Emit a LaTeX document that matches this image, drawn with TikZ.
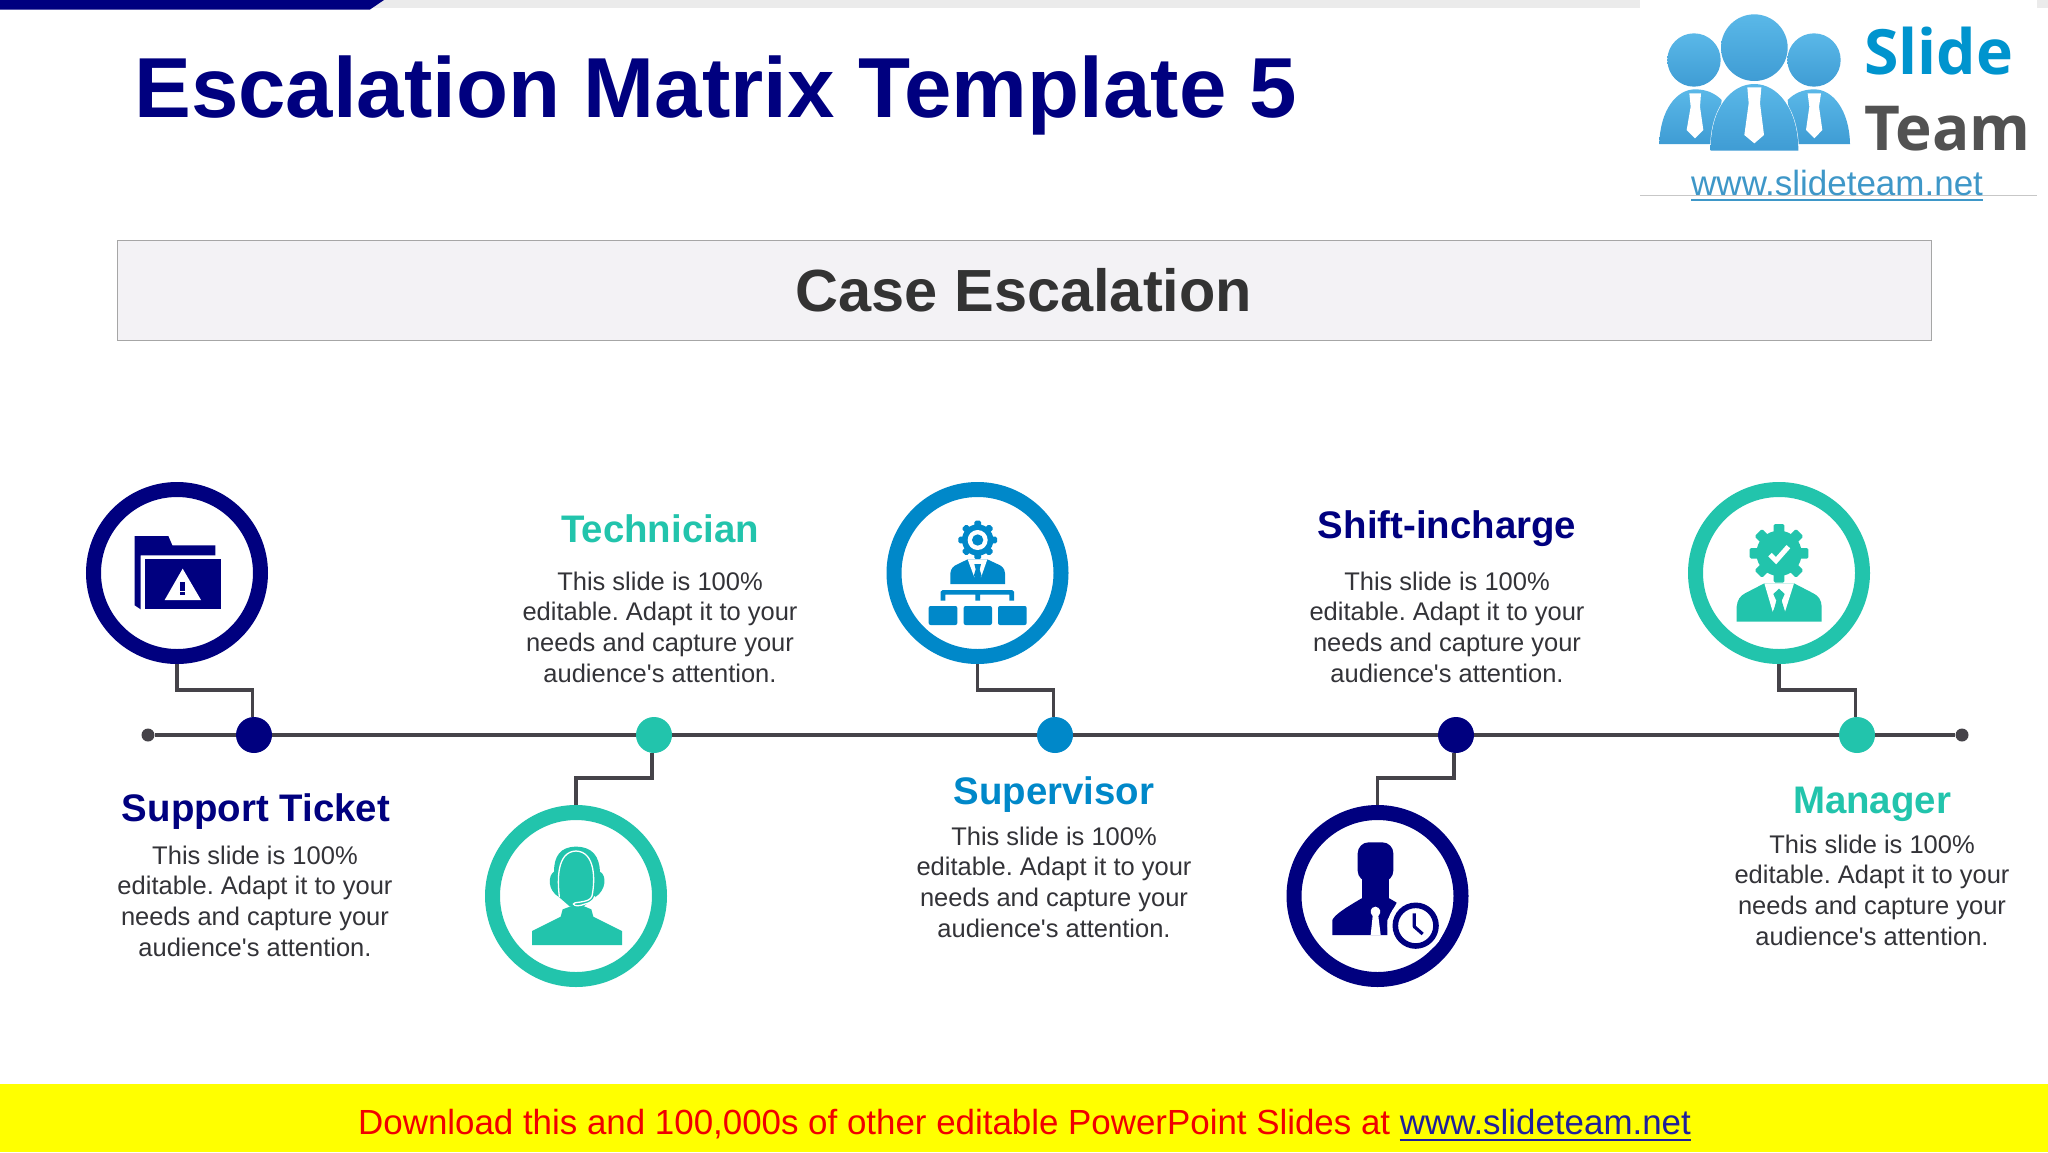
\documentclass[tikz,border=0pt]{standalone}
\usepackage{fontspec}
\setmainfont{Liberation Sans}
\newfontfamily\copyfont{Liberation Sans}
\newfontfamily\logofont{Open Sans}
\definecolor{navy}{HTML}{00007F}
\definecolor{teal}{HTML}{22C4AC}
\definecolor{azure}{HTML}{0088C9}
\definecolor{linegray}{HTML}{454349}
\definecolor{bodygray}{HTML}{333338}
\definecolor{logoblue}{HTML}{45A8DE}
\definecolor{logolight}{HTML}{5AB8E8}
\definecolor{logodark}{HTML}{3F9CD4}
\definecolor{bandyellow}{HTML}{FFFF00}
\definecolor{promored}{HTML}{F00000}
\definecolor{sitedark}{HTML}{1F1F9A}
\definecolor{bannerfill}{HTML}{F3F2F5}
\tikzset{
  ring/.style={circle,draw=#1,fill=white,line width=15pt,minimum size=167pt,inner sep=0pt},
  stop/.style={circle,fill=#1,minimum size=36pt,inner sep=0pt},
  tip/.style={circle,fill=linegray,minimum size=13pt,inner sep=0pt},
  rail/.style={draw=linegray,line width=3.8pt},
  link/.style={draw=linegray,line width=3.6pt,line join=miter},
  head/.style={anchor=base,inner sep=0pt,text=#1,font=\fontsize{38.4}{44}\selectfont\bfseries},
  copy/.style={anchor=center,inner sep=0pt,align=center,text=bodygray,font=\copyfont\frenchspacing\fontsize{25.5}{30.6}\selectfont},
  zoomed/.style={shift={#1},x=0.33333pt,y=-0.33333pt},
  logoshade/.style={top color=logolight,bottom color=logodark,draw=none},
}
\newcommand{\bodytext}{This slide is 100\%\\editable. Adapt it to your\\needs and capture your\\audience's attention.}
\newcommand{\gearteeth}[4]{% centre x, y, half width, outer radius
  \foreach \a in {0,45,...,315}{\fill[rotate around={\a:(#1,#2)},rounded corners=1.5pt] (#1-#3,#2) rectangle (#1+#3,#2-#4);}}
\begin{document}
\begin{tikzpicture}[x=1pt,y=-1pt]
\useasboundingbox (0,0) rectangle (2048,1152);
\fill[white] (0,0) rectangle (2048,1152);
% top strip
\fill[black!8] (370,0) rectangle (2048,8);
\fill[navy] (0,0) -- (384,0) -- (370,9.5) -- (0,9.5) -- cycle;
% logo
\fill[white] (1640,0) rectangle (2037,196);
\draw[black!22,line width=1pt] (1640,195.5) -- (2037,195.5);
\begin{scope}[zoomed={(1620,0)}]
  \shade[logoshade] (222,180) circle (80);
  \shade[logoshade] (582,180) circle (80);
  \shade[logoshade] (403,143) circle (100);
  \shade[logoshade] (118,432) .. controls (120,330) and (170,268) .. (225,268) .. controls (260,268) and (285,280) .. (305,300) -- (290,432) -- cycle;
  \shade[logoshade] (690,432) .. controls (688,330) and (638,268) .. (583,268) .. controls (548,268) and (523,280) .. (503,300) -- (518,432) -- cycle;
  \draw[white,line width=1pt] (272,452) .. controls (270,330) and (330,252) .. (403,252) .. controls (475,252) and (535,330) .. (535,452);
  \shade[logoshade] (272,452) .. controls (270,330) and (330,252) .. (403,252) .. controls (475,252) and (535,330) .. (535,452) -- cycle;
  \fill[white] (208,280) -- (243,280) -- (240,320) -- (250,390) -- (225,415) -- (200,390) -- (212,320) -- cycle;
  \fill[white] (382,262) -- (424,262) -- (420,310) -- (432,405) -- (403,430) -- (373,405) -- (386,310) -- cycle;
  \fill[white] (563,280) -- (603,280) -- (597,320) -- (607,390) -- (583,415) -- (558,390) -- (568,320) -- cycle;
\end{scope}
\node[anchor=base west,inner sep=0pt,text=azure!90!cyan,font=\logofont\fontsize{62.5}{70}\selectfont\bfseries] (logoslide) at (1864,74) {Slide};
\node[anchor=base west,inner sep=0pt,text=black!68,font=\logofont\fontsize{62}{70}\selectfont\bfseries] (logoteam) at (1864,150) {Team};
\node[anchor=base west,inner sep=0pt,text=logoblue!90!black,font=\fontsize{35}{40}\selectfont] (logourl) at (1691,195) {www.slideteam.net};
\draw[logoblue!90!black,line width=2pt] (logourl.base west |- 0,200) -- (logourl.base east |- 0,200);
% title
\node[anchor=base west,inner sep=0pt,text=navy,font=\fontsize{85.2}{95}\selectfont\bfseries] (title) at (134,117) {Escalation Matrix Template 5};
% banner
\node[draw=black!35,fill=bannerfill,line width=1pt,minimum width=1814pt,minimum height=100pt,inner sep=0pt,text=black!80,font=\fontsize{59.5}{66}\selectfont\bfseries] (banner) at (1024,290) {Case Escalation};
% rings
\node[ring=navy] (c1) at (177,573) {};
\node[ring=teal] (c2) at (576,896) {};
\node[ring=azure] (c3) at (977.5,573) {};
\node[ring=navy] (c4) at (1377.5,896) {};
\node[ring=teal] (c5) at (1779,573) {};
% stops
\node[tip] (s) at (148,735) {};
\node[tip] (e) at (1962,735) {};
\node[stop=navy] (d1) at (254,735) {};
\node[stop=teal] (d2) at (654,735) {};
\node[stop=azure] (d3) at (1055,735) {};
\node[stop=navy] (d4) at (1456,735) {};
\node[stop=teal] (d5) at (1857,735) {};
\draw[rail] (s) -- (d1) -- (d2) -- (d3) -- (d4) -- (d5) -- (e);
% connectors
\draw[link] (c1.south) -- ++(0,26) -| ([xshift=-1.5pt]d1.north);
\draw[link] (c2.north) -- ++(0,-27) -| ([xshift=-2pt]d2.south);
\draw[link] (c3.south) -- ++(0,26) -| ([xshift=-1.5pt]d3.north);
\draw[link] (c4.north) -- ++(0,-27) -| ([xshift=-2pt]d4.south);
\draw[link] (c5.south) -- ++(0,26) -| ([xshift=-1.5pt]d5.north);
% texts
\node[head=navy] (h1) at (256,821) {Support Ticket};
\node[copy] (b1) at (255,901) {\bodytext};
\node[head=teal] (h2) at (660,542) {Technician};
\node[copy] (b2) at (660,627) {\bodytext};
\node[head=azure] (h3) at (1054,804) {Supervisor};
\node[copy] (b3) at (1054,882) {\bodytext};
\node[head=navy] (h4) at (1447,538) {Shift-incharge};
\node[copy] (b4) at (1447,627) {\bodytext};
\node[head=teal] (h5) at (1872,813) {Manager};
\node[copy] (b5) at (1872,890) {\bodytext};
% icon 1 folder
\begin{scope}[zoomed={(70,470)}]
  \fill[navy] (194,198) -- (295,198) -- (307,226) -- (436,226) -- (436,256) -- (212,256) -- (212,418) -- (194,406) -- cycle;
  \fill[navy] (225,268) rectangle (452,418);
  \fill[white] (338,296) -- (393,390) -- (284,390) -- cycle;
  \fill[navy] (331,335) rectangle (345,362);
  \fill[navy] (331,365) rectangle (345,375);
\end{scope}
% icon 2 headset
\begin{scope}[zoomed={(470,720)}]
  \fill[teal] (186,675) -- (186,633) -- (272,590) -- (278,568) -- (305,558) -- (300,530) -- (270,530) -- (352,530) -- (340,558) -- (364,568) -- (370,590) -- (456,633) -- (456,675) -- cycle;
  \fill[teal] (318,380) .. controls (270,380) and (252,410) .. (252,455) .. controls (235,465) and (230,510) .. (268,532) -- (300,560) -- (340,560) -- (375,532) .. controls (410,510) and (410,465) .. (390,455) .. controls (388,410) and (368,380) .. (318,380) -- cycle;
  \draw[white,line width=1.3pt,line cap=round,line join=round] (268,530) .. controls (262,480) and (260,395) .. (318,393) .. controls (376,395) and (376,480) .. (366,528) .. controls (362,540) and (350,543) .. (332,546) .. controls (318,548) and (310,548) .. (310,552) .. controls (314,560) and (330,558) .. (345,552) .. controls (360,548) and (370,545) .. (374,530);
\end{scope}
% icon 3 gear and organisation
\begin{scope}[zoomed={(870,470)}]
  \begin{scope}[azure,fill=azure]
    \fill (323,210) circle (47);
    \gearteeth{323}{210}{10}{58}
    \fill[azure] (241,342) -- (241,310) .. controls (243,295) and (250,288) .. (262,283) -- (293,268) -- (352,268) -- (384,283) .. controls (396,288) and (404,295) .. (405,310) -- (405,342) -- cycle;
    \fill[azure] (232,374) -- (226,360) -- (426,360) -- (432,365) -- (432,392) -- (418,392) -- (418,374) -- (330,374) -- (330,392) -- (316,392) -- (316,374) -- (226,374) -- (226,392) -- (212,392) -- (212,365) -- (218,360) -- (226,360) -- cycle;
    \fill[azure,rounded corners=2pt] (176,408) rectangle (262,465);
    \fill[azure,rounded corners=2pt] (281,408) rectangle (366,465);
    \fill[azure,rounded corners=2pt] (384,408) rectangle (470,465);
  \end{scope}
  \fill[white] (323,210) circle (30);
  \fill[azure] (323,210) circle (17);
  \fill[white] (293,268) -- (352,268) -- (333,322) -- (323,300) -- (313,322) -- cycle;
  \fill[azure] (313,282) -- (333,282) -- (329,298) -- (335,318) -- (323,325) -- (311,318) -- (317,298) -- cycle;
\end{scope}
% icon 4 person and clock
\begin{scope}[zoomed={(1270,720)}]
  \fill[navy,rounded corners=11pt] (263,367) rectangle (370,485);
  \fill[navy] (275,470) rectangle (358,570);
  \fill[navy] (187,645) -- (187,600) .. controls (195,585) and (215,570) .. (275,535) -- (358,535) -- (380,548) -- (352,600) -- (352,645) -- cycle;
  \fill[white] (316,560) .. controls (300,562) and (298,578) .. (308,588) -- (302,645) -- (332,645) -- (325,588) .. controls (335,578) and (332,562) .. (316,560) -- cycle;
  \fill[white] (437,617) circle (84);
  \draw[navy,line width=5.6pt] (437,617) circle (61);
  \draw[navy,line width=3.2pt,line join=round] (433,580) -- (433,620) -- (458,642);
\end{scope}
% icon 5 gear with check
\begin{scope}[zoomed={(1670,470)}]
  \fill[teal] (327,250) circle (68);
  \begin{scope}[teal]
    \gearteeth{327}{250}{16}{88}
  \end{scope}
  \draw[white,line width=5pt] (300,254) -- (318,272) -- (355,230);
  \fill[teal] (200,455) -- (200,410) .. controls (202,390) and (210,378) .. (225,370) -- (283,340) -- (372,340) -- (430,370) .. controls (446,378) and (454,390) .. (455,410) -- (455,455) -- cycle;
  \fill[white] (283,340) -- (372,340) -- (345,425) -- (327,385) -- (308,425) -- cycle;
  \fill[teal] (327,356) -- (344,372) -- (335,392) -- (345,425) -- (310,425) -- (319,392) -- (310,372) -- cycle;
\end{scope}
% footer
\fill[bandyellow] (0,1084) rectangle (2048,1152);
\node[anchor=base west,inner sep=0pt,text=promored,font=\fontsize{34.9}{40}\selectfont] (promo) at (358,1134) {Download this and 100,000s of other editable PowerPoint Slides at};
\node[anchor=base east,inner sep=0pt,text=sitedark,font=\fontsize{34.9}{40}\selectfont] (site) at (1691,1134) {www.slideteam.net};
\draw[sitedark,line width=2.2pt] (site.base west |- 0,1140) -- (site.base east |- 0,1140);
\end{tikzpicture}
\end{document}
